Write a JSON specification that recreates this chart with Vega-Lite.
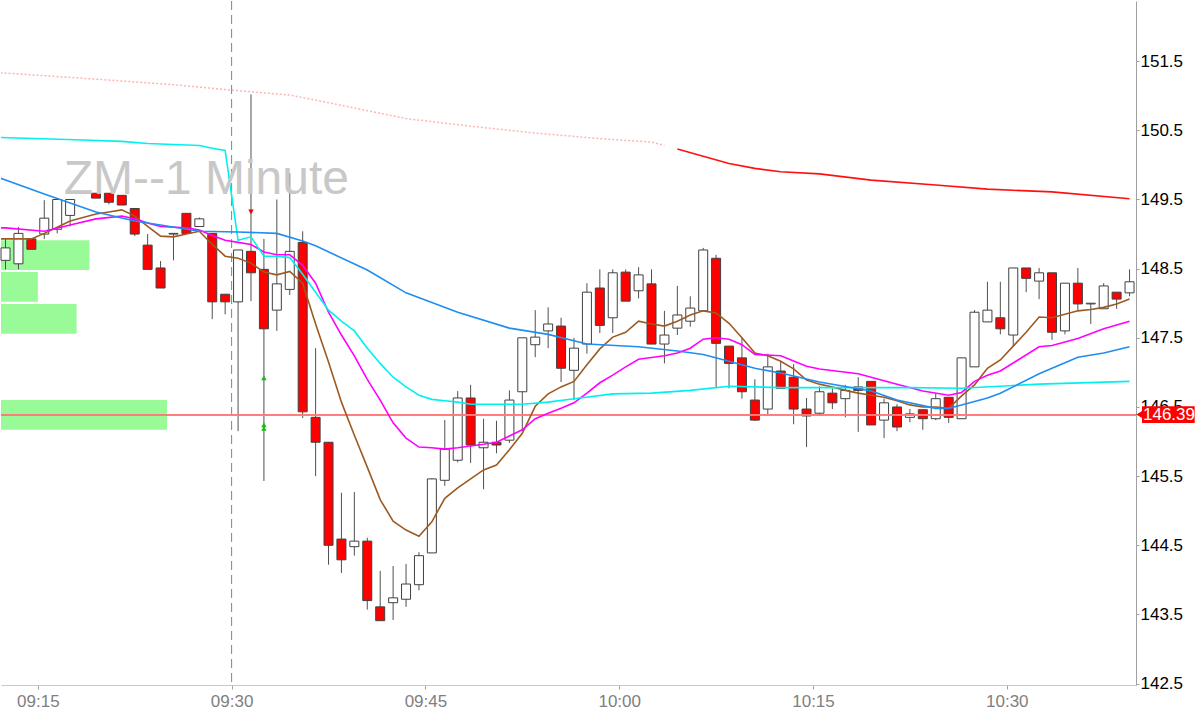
{
  "$schema": "https://vega.github.io/schema/vega-lite/v6.json",
  "width": 1135,
  "height": 684,
  "padding": 0,
  "config": {"view": {"stroke": null}, "font": "Liberation Sans"},
  "datasets": {
    "candles": [
      {"t": "2022-01-03T09:12", "o": 148.62, "h": 148.93, "l": 148.49, "c": 148.80},
      {"t": "2022-01-03T09:13", "o": 148.57, "h": 149.10, "l": 148.49, "c": 149.01},
      {"t": "2022-01-03T09:14", "o": 148.93, "h": 148.93, "l": 148.78, "c": 148.78},
      {"t": "2022-01-03T09:15", "o": 149.00, "h": 149.49, "l": 148.93, "c": 149.23},
      {"t": "2022-01-03T09:16", "o": 149.07, "h": 149.52, "l": 149.01, "c": 149.50},
      {"t": "2022-01-03T09:17", "o": 149.27, "h": 149.50, "l": 149.11, "c": 149.50},
      {"t": "2022-01-03T09:18", "o": 149.61, "h": 149.62, "l": 149.60, "c": 149.61},
      {"t": "2022-01-03T09:19", "o": 149.59, "h": 149.59, "l": 149.52, "c": 149.52},
      {"t": "2022-01-03T09:20", "o": 149.59, "h": 149.59, "l": 149.43, "c": 149.46},
      {"t": "2022-01-03T09:21", "o": 149.56, "h": 149.56, "l": 149.42, "c": 149.42},
      {"t": "2022-01-03T09:22", "o": 149.37, "h": 149.37, "l": 148.97, "c": 149.00},
      {"t": "2022-01-03T09:23", "o": 148.84, "h": 149.00, "l": 148.49, "c": 148.49},
      {"t": "2022-01-03T09:24", "o": 148.51, "h": 148.61, "l": 148.22, "c": 148.22},
      {"t": "2022-01-03T09:25", "o": 149.00, "h": 149.01, "l": 148.62, "c": 149.01},
      {"t": "2022-01-03T09:26", "o": 149.30, "h": 149.30, "l": 149.01, "c": 149.01},
      {"t": "2022-01-03T09:27", "o": 149.11, "h": 149.24, "l": 149.11, "c": 149.22},
      {"t": "2022-01-03T09:28", "o": 149.01, "h": 149.01, "l": 147.77, "c": 148.02},
      {"t": "2022-01-03T09:29", "o": 148.13, "h": 148.13, "l": 147.84, "c": 148.02},
      {"t": "2022-01-03T09:30", "o": 148.02, "h": 148.77, "l": 146.15, "c": 148.77},
      {"t": "2022-01-03T09:31", "o": 148.75, "h": 151.02, "l": 148.03, "c": 148.44},
      {"t": "2022-01-03T09:32", "o": 148.49, "h": 148.93, "l": 145.43, "c": 147.63},
      {"t": "2022-01-03T09:33", "o": 147.90, "h": 149.50, "l": 147.60, "c": 148.28},
      {"t": "2022-01-03T09:34", "o": 148.20, "h": 149.88, "l": 148.12, "c": 148.75},
      {"t": "2022-01-03T09:35", "o": 148.88, "h": 149.04, "l": 146.34, "c": 146.43},
      {"t": "2022-01-03T09:36", "o": 146.35, "h": 147.35, "l": 145.50, "c": 145.99},
      {"t": "2022-01-03T09:37", "o": 145.99, "h": 145.99, "l": 144.22, "c": 144.50},
      {"t": "2022-01-03T09:38", "o": 144.59, "h": 145.26, "l": 144.10, "c": 144.29},
      {"t": "2022-01-03T09:39", "o": 144.48, "h": 145.27, "l": 144.35, "c": 144.56},
      {"t": "2022-01-03T09:40", "o": 144.56, "h": 144.61, "l": 143.57, "c": 143.70},
      {"t": "2022-01-03T09:41", "o": 143.61, "h": 144.13, "l": 143.41, "c": 143.41},
      {"t": "2022-01-03T09:42", "o": 143.67, "h": 144.20, "l": 143.42, "c": 143.74},
      {"t": "2022-01-03T09:43", "o": 143.72, "h": 144.23, "l": 143.61, "c": 143.94},
      {"t": "2022-01-03T09:44", "o": 143.93, "h": 144.40, "l": 143.85, "c": 144.35},
      {"t": "2022-01-03T09:45", "o": 144.39, "h": 145.47, "l": 144.39, "c": 145.46},
      {"t": "2022-01-03T09:46", "o": 145.44, "h": 146.31, "l": 145.36, "c": 145.89},
      {"t": "2022-01-03T09:47", "o": 145.73, "h": 146.73, "l": 145.70, "c": 146.63},
      {"t": "2022-01-03T09:48", "o": 146.63, "h": 146.82, "l": 145.69, "c": 145.95},
      {"t": "2022-01-03T09:49", "o": 145.91, "h": 146.33, "l": 145.31, "c": 145.99},
      {"t": "2022-01-03T09:50", "o": 145.99, "h": 146.30, "l": 145.83, "c": 145.95},
      {"t": "2022-01-03T09:51", "o": 146.02, "h": 146.74, "l": 145.98, "c": 146.60},
      {"t": "2022-01-03T09:52", "o": 146.72, "h": 147.50, "l": 146.15, "c": 147.50},
      {"t": "2022-01-03T09:53", "o": 147.40, "h": 147.90, "l": 147.22, "c": 147.51},
      {"t": "2022-01-03T09:54", "o": 147.60, "h": 147.94, "l": 147.35, "c": 147.70},
      {"t": "2022-01-03T09:55", "o": 147.67, "h": 147.79, "l": 146.86, "c": 147.06},
      {"t": "2022-01-03T09:56", "o": 147.03, "h": 147.50, "l": 146.60, "c": 147.35},
      {"t": "2022-01-03T09:57", "o": 147.41, "h": 148.29, "l": 147.27, "c": 148.16},
      {"t": "2022-01-03T09:58", "o": 148.22, "h": 148.49, "l": 147.57, "c": 147.68},
      {"t": "2022-01-03T09:59", "o": 147.79, "h": 148.49, "l": 147.57, "c": 148.44},
      {"t": "2022-01-03T10:00", "o": 148.45, "h": 148.49, "l": 148.03, "c": 148.03},
      {"t": "2022-01-03T10:01", "o": 148.18, "h": 148.52, "l": 148.07, "c": 148.41},
      {"t": "2022-01-03T10:02", "o": 148.28, "h": 148.49, "l": 147.41, "c": 147.41},
      {"t": "2022-01-03T10:03", "o": 147.41, "h": 147.89, "l": 147.13, "c": 147.54},
      {"t": "2022-01-03T10:04", "o": 147.64, "h": 148.25, "l": 147.54, "c": 147.83},
      {"t": "2022-01-03T10:05", "o": 147.74, "h": 148.10, "l": 147.66, "c": 147.93},
      {"t": "2022-01-03T10:06", "o": 147.89, "h": 148.80, "l": 147.89, "c": 148.77},
      {"t": "2022-01-03T10:07", "o": 148.65, "h": 148.70, "l": 146.77, "c": 147.42},
      {"t": "2022-01-03T10:08", "o": 147.38, "h": 147.38, "l": 146.77, "c": 147.13},
      {"t": "2022-01-03T10:09", "o": 147.21, "h": 147.50, "l": 146.62, "c": 146.72},
      {"t": "2022-01-03T10:10", "o": 146.60, "h": 146.90, "l": 146.30, "c": 146.31},
      {"t": "2022-01-03T10:11", "o": 146.47, "h": 147.27, "l": 146.37, "c": 147.08},
      {"t": "2022-01-03T10:12", "o": 147.02, "h": 147.16, "l": 146.77, "c": 146.77},
      {"t": "2022-01-03T10:13", "o": 146.93, "h": 147.12, "l": 146.25, "c": 146.47},
      {"t": "2022-01-03T10:14", "o": 146.47, "h": 146.63, "l": 145.92, "c": 146.37},
      {"t": "2022-01-03T10:15", "o": 146.41, "h": 146.80, "l": 146.37, "c": 146.72},
      {"t": "2022-01-03T10:16", "o": 146.70, "h": 146.77, "l": 146.47, "c": 146.56},
      {"t": "2022-01-03T10:17", "o": 146.62, "h": 146.82, "l": 146.35, "c": 146.74},
      {"t": "2022-01-03T10:18", "o": 146.79, "h": 146.93, "l": 146.14, "c": 146.74},
      {"t": "2022-01-03T10:19", "o": 146.87, "h": 146.87, "l": 146.24, "c": 146.24},
      {"t": "2022-01-03T10:20", "o": 146.31, "h": 146.62, "l": 146.05, "c": 146.56},
      {"t": "2022-01-03T10:21", "o": 146.50, "h": 146.54, "l": 146.15, "c": 146.21},
      {"t": "2022-01-03T10:22", "o": 146.35, "h": 146.47, "l": 146.28, "c": 146.40},
      {"t": "2022-01-03T10:23", "o": 146.46, "h": 146.46, "l": 146.17, "c": 146.33},
      {"t": "2022-01-03T10:24", "o": 146.33, "h": 146.70, "l": 146.31, "c": 146.62},
      {"t": "2022-01-03T10:25", "o": 146.64, "h": 146.64, "l": 146.27, "c": 146.35},
      {"t": "2022-01-03T10:26", "o": 146.33, "h": 147.21, "l": 146.33, "c": 147.21},
      {"t": "2022-01-03T10:27", "o": 147.08, "h": 147.90, "l": 147.08, "c": 147.87},
      {"t": "2022-01-03T10:28", "o": 147.73, "h": 148.31, "l": 147.73, "c": 147.90},
      {"t": "2022-01-03T10:29", "o": 147.79, "h": 148.31, "l": 147.55, "c": 147.63},
      {"t": "2022-01-03T10:30", "o": 147.54, "h": 148.51, "l": 147.37, "c": 148.51},
      {"t": "2022-01-03T10:31", "o": 148.51, "h": 148.51, "l": 148.16, "c": 148.36},
      {"t": "2022-01-03T10:32", "o": 148.32, "h": 148.51, "l": 148.06, "c": 148.44},
      {"t": "2022-01-03T10:33", "o": 148.44, "h": 148.44, "l": 147.47, "c": 147.58},
      {"t": "2022-01-03T10:34", "o": 147.60, "h": 148.29, "l": 147.55, "c": 148.29},
      {"t": "2022-01-03T10:35", "o": 148.29, "h": 148.51, "l": 147.89, "c": 147.99},
      {"t": "2022-01-03T10:36", "o": 147.99, "h": 148.00, "l": 147.70, "c": 148.00},
      {"t": "2022-01-03T10:37", "o": 147.92, "h": 148.29, "l": 147.92, "c": 148.25},
      {"t": "2022-01-03T10:38", "o": 148.16, "h": 148.16, "l": 147.92, "c": 148.06},
      {"t": "2022-01-03T10:39", "o": 148.15, "h": 148.49, "l": 148.10, "c": 148.31}
    ],
    "ma": [
      {"s": "fast", "t": "2022-01-03T09:11", "v": 148.93},
      {"s": "fast", "t": "2022-01-03T09:14", "v": 148.93},
      {"s": "fast", "t": "2022-01-03T09:15", "v": 149.01},
      {"s": "fast", "t": "2022-01-03T09:16", "v": 149.10},
      {"s": "fast", "t": "2022-01-03T09:17", "v": 149.19},
      {"s": "fast", "t": "2022-01-03T09:19", "v": 149.29},
      {"s": "fast", "t": "2022-01-03T09:20", "v": 149.32},
      {"s": "fast", "t": "2022-01-03T09:21", "v": 149.35},
      {"s": "fast", "t": "2022-01-03T09:22", "v": 149.26},
      {"s": "fast", "t": "2022-01-03T09:23", "v": 149.11},
      {"s": "fast", "t": "2022-01-03T09:24", "v": 148.97},
      {"s": "fast", "t": "2022-01-03T09:25", "v": 148.96},
      {"s": "fast", "t": "2022-01-03T09:26", "v": 149.00},
      {"s": "fast", "t": "2022-01-03T09:27", "v": 149.04},
      {"s": "fast", "t": "2022-01-03T09:28", "v": 148.85},
      {"s": "fast", "t": "2022-01-03T09:29", "v": 148.68},
      {"s": "fast", "t": "2022-01-03T09:30", "v": 148.65},
      {"s": "fast", "t": "2022-01-03T09:31", "v": 148.58},
      {"s": "fast", "t": "2022-01-03T09:32", "v": 148.45},
      {"s": "fast", "t": "2022-01-03T09:33", "v": 148.41},
      {"s": "fast", "t": "2022-01-03T09:34", "v": 148.46},
      {"s": "fast", "t": "2022-01-03T09:35", "v": 148.29},
      {"s": "fast", "t": "2022-01-03T09:36", "v": 147.70},
      {"s": "fast", "t": "2022-01-03T09:37", "v": 147.15},
      {"s": "fast", "t": "2022-01-03T09:38", "v": 146.57},
      {"s": "fast", "t": "2022-01-03T09:39", "v": 146.09},
      {"s": "fast", "t": "2022-01-03T09:40", "v": 145.63},
      {"s": "fast", "t": "2022-01-03T09:41", "v": 145.16},
      {"s": "fast", "t": "2022-01-03T09:42", "v": 144.85},
      {"s": "fast", "t": "2022-01-03T09:43", "v": 144.72},
      {"s": "fast", "t": "2022-01-03T09:44", "v": 144.63},
      {"s": "fast", "t": "2022-01-03T09:45", "v": 144.84},
      {"s": "fast", "t": "2022-01-03T09:46", "v": 145.18},
      {"s": "fast", "t": "2022-01-03T09:47", "v": 145.33},
      {"s": "fast", "t": "2022-01-03T09:48", "v": 145.46},
      {"s": "fast", "t": "2022-01-03T09:49", "v": 145.59},
      {"s": "fast", "t": "2022-01-03T09:50", "v": 145.66},
      {"s": "fast", "t": "2022-01-03T09:51", "v": 145.88},
      {"s": "fast", "t": "2022-01-03T09:52", "v": 146.12},
      {"s": "fast", "t": "2022-01-03T09:53", "v": 146.51},
      {"s": "fast", "t": "2022-01-03T09:54", "v": 146.69},
      {"s": "fast", "t": "2022-01-03T09:55", "v": 146.79},
      {"s": "fast", "t": "2022-01-03T09:56", "v": 146.87},
      {"s": "fast", "t": "2022-01-03T09:57", "v": 147.11},
      {"s": "fast", "t": "2022-01-03T09:58", "v": 147.34},
      {"s": "fast", "t": "2022-01-03T09:59", "v": 147.51},
      {"s": "fast", "t": "2022-01-03T10:00", "v": 147.58},
      {"s": "fast", "t": "2022-01-03T10:01", "v": 147.74},
      {"s": "fast", "t": "2022-01-03T10:02", "v": 147.70},
      {"s": "fast", "t": "2022-01-03T10:03", "v": 147.67},
      {"s": "fast", "t": "2022-01-03T10:04", "v": 147.74},
      {"s": "fast", "t": "2022-01-03T10:05", "v": 147.83},
      {"s": "fast", "t": "2022-01-03T10:06", "v": 147.89},
      {"s": "fast", "t": "2022-01-03T10:07", "v": 147.86},
      {"s": "fast", "t": "2022-01-03T10:08", "v": 147.71},
      {"s": "fast", "t": "2022-01-03T10:09", "v": 147.50},
      {"s": "fast", "t": "2022-01-03T10:10", "v": 147.28},
      {"s": "fast", "t": "2022-01-03T10:11", "v": 147.24},
      {"s": "fast", "t": "2022-01-03T10:12", "v": 147.16},
      {"s": "fast", "t": "2022-01-03T10:13", "v": 147.05},
      {"s": "fast", "t": "2022-01-03T10:14", "v": 146.89},
      {"s": "fast", "t": "2022-01-03T10:15", "v": 146.83},
      {"s": "fast", "t": "2022-01-03T10:16", "v": 146.79},
      {"s": "fast", "t": "2022-01-03T10:17", "v": 146.74},
      {"s": "fast", "t": "2022-01-03T10:18", "v": 146.70},
      {"s": "fast", "t": "2022-01-03T10:19", "v": 146.67},
      {"s": "fast", "t": "2022-01-03T10:20", "v": 146.64},
      {"s": "fast", "t": "2022-01-03T10:21", "v": 146.59},
      {"s": "fast", "t": "2022-01-03T10:22", "v": 146.53},
      {"s": "fast", "t": "2022-01-03T10:23", "v": 146.50},
      {"s": "fast", "t": "2022-01-03T10:24", "v": 146.50},
      {"s": "fast", "t": "2022-01-03T10:25", "v": 146.48},
      {"s": "fast", "t": "2022-01-03T10:26", "v": 146.66},
      {"s": "fast", "t": "2022-01-03T10:27", "v": 146.82},
      {"s": "fast", "t": "2022-01-03T10:28", "v": 147.06},
      {"s": "fast", "t": "2022-01-03T10:29", "v": 147.18},
      {"s": "fast", "t": "2022-01-03T10:30", "v": 147.38},
      {"s": "fast", "t": "2022-01-03T10:31", "v": 147.58},
      {"s": "fast", "t": "2022-01-03T10:32", "v": 147.80},
      {"s": "fast", "t": "2022-01-03T10:33", "v": 147.79},
      {"s": "fast", "t": "2022-01-03T10:34", "v": 147.84},
      {"s": "fast", "t": "2022-01-03T10:35", "v": 147.89},
      {"s": "fast", "t": "2022-01-03T10:36", "v": 147.91},
      {"s": "fast", "t": "2022-01-03T10:37", "v": 147.94},
      {"s": "fast", "t": "2022-01-03T10:38", "v": 147.99},
      {"s": "fast", "t": "2022-01-03T10:39", "v": 148.06},
      {"s": "mid", "t": "2022-01-03T09:11", "v": 149.09},
      {"s": "mid", "t": "2022-01-03T09:12", "v": 149.09},
      {"s": "mid", "t": "2022-01-03T09:15", "v": 149.04},
      {"s": "mid", "t": "2022-01-03T09:17", "v": 149.13},
      {"s": "mid", "t": "2022-01-03T09:19", "v": 149.22},
      {"s": "mid", "t": "2022-01-03T09:21", "v": 149.26},
      {"s": "mid", "t": "2022-01-03T09:22", "v": 149.22},
      {"s": "mid", "t": "2022-01-03T09:23", "v": 149.16},
      {"s": "mid", "t": "2022-01-03T09:24", "v": 149.11},
      {"s": "mid", "t": "2022-01-03T09:26", "v": 149.09},
      {"s": "mid", "t": "2022-01-03T09:27", "v": 149.06},
      {"s": "mid", "t": "2022-01-03T09:28", "v": 148.98},
      {"s": "mid", "t": "2022-01-03T09:29", "v": 148.91},
      {"s": "mid", "t": "2022-01-03T09:30", "v": 148.88},
      {"s": "mid", "t": "2022-01-03T09:31", "v": 148.85},
      {"s": "mid", "t": "2022-01-03T09:32", "v": 148.74},
      {"s": "mid", "t": "2022-01-03T09:33", "v": 148.70},
      {"s": "mid", "t": "2022-01-03T09:34", "v": 148.70},
      {"s": "mid", "t": "2022-01-03T09:35", "v": 148.55},
      {"s": "mid", "t": "2022-01-03T09:36", "v": 148.29},
      {"s": "mid", "t": "2022-01-03T09:37", "v": 147.87},
      {"s": "mid", "t": "2022-01-03T09:38", "v": 147.54},
      {"s": "mid", "t": "2022-01-03T09:39", "v": 147.24},
      {"s": "mid", "t": "2022-01-03T09:40", "v": 146.90},
      {"s": "mid", "t": "2022-01-03T09:41", "v": 146.60},
      {"s": "mid", "t": "2022-01-03T09:42", "v": 146.27},
      {"s": "mid", "t": "2022-01-03T09:43", "v": 146.05},
      {"s": "mid", "t": "2022-01-03T09:44", "v": 145.92},
      {"s": "mid", "t": "2022-01-03T09:45", "v": 145.91},
      {"s": "mid", "t": "2022-01-03T09:46", "v": 145.89},
      {"s": "mid", "t": "2022-01-03T09:47", "v": 145.91},
      {"s": "mid", "t": "2022-01-03T09:49", "v": 145.96},
      {"s": "mid", "t": "2022-01-03T09:50", "v": 145.99},
      {"s": "mid", "t": "2022-01-03T09:51", "v": 146.08},
      {"s": "mid", "t": "2022-01-03T09:52", "v": 146.17},
      {"s": "mid", "t": "2022-01-03T09:53", "v": 146.33},
      {"s": "mid", "t": "2022-01-03T09:54", "v": 146.41},
      {"s": "mid", "t": "2022-01-03T09:55", "v": 146.48},
      {"s": "mid", "t": "2022-01-03T09:56", "v": 146.56},
      {"s": "mid", "t": "2022-01-03T09:57", "v": 146.70},
      {"s": "mid", "t": "2022-01-03T09:58", "v": 146.85},
      {"s": "mid", "t": "2022-01-03T09:59", "v": 146.96},
      {"s": "mid", "t": "2022-01-03T10:00", "v": 147.08},
      {"s": "mid", "t": "2022-01-03T10:01", "v": 147.19},
      {"s": "mid", "t": "2022-01-03T10:03", "v": 147.24},
      {"s": "mid", "t": "2022-01-03T10:04", "v": 147.28},
      {"s": "mid", "t": "2022-01-03T10:05", "v": 147.35},
      {"s": "mid", "t": "2022-01-03T10:06", "v": 147.48},
      {"s": "mid", "t": "2022-01-03T10:07", "v": 147.50},
      {"s": "mid", "t": "2022-01-03T10:08", "v": 147.48},
      {"s": "mid", "t": "2022-01-03T10:09", "v": 147.40},
      {"s": "mid", "t": "2022-01-03T10:10", "v": 147.26},
      {"s": "mid", "t": "2022-01-03T10:12", "v": 147.24},
      {"s": "mid", "t": "2022-01-03T10:14", "v": 147.09},
      {"s": "mid", "t": "2022-01-03T10:15", "v": 147.05},
      {"s": "mid", "t": "2022-01-03T10:18", "v": 146.98},
      {"s": "mid", "t": "2022-01-03T10:21", "v": 146.83},
      {"s": "mid", "t": "2022-01-03T10:23", "v": 146.73},
      {"s": "mid", "t": "2022-01-03T10:25", "v": 146.67},
      {"s": "mid", "t": "2022-01-03T10:26", "v": 146.71},
      {"s": "mid", "t": "2022-01-03T10:27", "v": 146.87},
      {"s": "mid", "t": "2022-01-03T10:28", "v": 146.96},
      {"s": "mid", "t": "2022-01-03T10:29", "v": 147.02},
      {"s": "mid", "t": "2022-01-03T10:32", "v": 147.37},
      {"s": "mid", "t": "2022-01-03T10:33", "v": 147.39},
      {"s": "mid", "t": "2022-01-03T10:35", "v": 147.49},
      {"s": "mid", "t": "2022-01-03T10:37", "v": 147.63},
      {"s": "mid", "t": "2022-01-03T10:39", "v": 147.74},
      {"s": "vwap", "t": "2022-01-03T09:11", "v": 150.40},
      {"s": "vwap", "t": "2022-01-03T09:18", "v": 150.36},
      {"s": "vwap", "t": "2022-01-03T09:21", "v": 150.34},
      {"s": "vwap", "t": "2022-01-03T09:23", "v": 150.31},
      {"s": "vwap", "t": "2022-01-03T09:27", "v": 150.28},
      {"s": "vwap", "t": "2022-01-03T09:28", "v": 150.24},
      {"s": "vwap", "t": "2022-01-03T09:29", "v": 150.21},
      {"s": "vwap", "t": "2022-01-03T09:30", "v": 148.91},
      {"s": "vwap", "t": "2022-01-03T09:31", "v": 148.96},
      {"s": "vwap", "t": "2022-01-03T09:32", "v": 148.68},
      {"s": "vwap", "t": "2022-01-03T09:33", "v": 148.68},
      {"s": "vwap", "t": "2022-01-03T09:34", "v": 148.66},
      {"s": "vwap", "t": "2022-01-03T09:35", "v": 148.42},
      {"s": "vwap", "t": "2022-01-03T09:36", "v": 148.16},
      {"s": "vwap", "t": "2022-01-03T09:37", "v": 147.90},
      {"s": "vwap", "t": "2022-01-03T09:38", "v": 147.74},
      {"s": "vwap", "t": "2022-01-03T09:39", "v": 147.60},
      {"s": "vwap", "t": "2022-01-03T09:40", "v": 147.35},
      {"s": "vwap", "t": "2022-01-03T09:41", "v": 147.13},
      {"s": "vwap", "t": "2022-01-03T09:42", "v": 146.93},
      {"s": "vwap", "t": "2022-01-03T09:43", "v": 146.79},
      {"s": "vwap", "t": "2022-01-03T09:44", "v": 146.67},
      {"s": "vwap", "t": "2022-01-03T09:45", "v": 146.61},
      {"s": "vwap", "t": "2022-01-03T09:46", "v": 146.59},
      {"s": "vwap", "t": "2022-01-03T09:47", "v": 146.57},
      {"s": "vwap", "t": "2022-01-03T09:48", "v": 146.54},
      {"s": "vwap", "t": "2022-01-03T09:52", "v": 146.54},
      {"s": "vwap", "t": "2022-01-03T09:54", "v": 146.57},
      {"s": "vwap", "t": "2022-01-03T09:56", "v": 146.62},
      {"s": "vwap", "t": "2022-01-03T09:59", "v": 146.69},
      {"s": "vwap", "t": "2022-01-03T10:02", "v": 146.70},
      {"s": "vwap", "t": "2022-01-03T10:05", "v": 146.74},
      {"s": "vwap", "t": "2022-01-03T10:08", "v": 146.80},
      {"s": "vwap", "t": "2022-01-03T10:12", "v": 146.78},
      {"s": "vwap", "t": "2022-01-03T10:22", "v": 146.78},
      {"s": "vwap", "t": "2022-01-03T10:26", "v": 146.77},
      {"s": "vwap", "t": "2022-01-03T10:32", "v": 146.83},
      {"s": "vwap", "t": "2022-01-03T10:39", "v": 146.87},
      {"s": "slow", "t": "2022-01-03T09:11", "v": 149.85},
      {"s": "slow", "t": "2022-01-03T09:15", "v": 149.58},
      {"s": "slow", "t": "2022-01-03T09:19", "v": 149.32},
      {"s": "slow", "t": "2022-01-03T09:22", "v": 149.19},
      {"s": "slow", "t": "2022-01-03T09:24", "v": 149.13},
      {"s": "slow", "t": "2022-01-03T09:27", "v": 149.04},
      {"s": "slow", "t": "2022-01-03T09:30", "v": 149.03},
      {"s": "slow", "t": "2022-01-03T09:33", "v": 149.01},
      {"s": "slow", "t": "2022-01-03T09:35", "v": 148.90},
      {"s": "slow", "t": "2022-01-03T09:36", "v": 148.83},
      {"s": "slow", "t": "2022-01-03T09:40", "v": 148.48},
      {"s": "slow", "t": "2022-01-03T09:43", "v": 148.15},
      {"s": "slow", "t": "2022-01-03T09:47", "v": 147.87},
      {"s": "slow", "t": "2022-01-03T09:51", "v": 147.64},
      {"s": "slow", "t": "2022-01-03T09:54", "v": 147.55},
      {"s": "slow", "t": "2022-01-03T09:57", "v": 147.41},
      {"s": "slow", "t": "2022-01-03T10:01", "v": 147.37},
      {"s": "slow", "t": "2022-01-03T10:04", "v": 147.31},
      {"s": "slow", "t": "2022-01-03T10:06", "v": 147.26},
      {"s": "slow", "t": "2022-01-03T10:08", "v": 147.16},
      {"s": "slow", "t": "2022-01-03T10:10", "v": 147.06},
      {"s": "slow", "t": "2022-01-03T10:12", "v": 146.99},
      {"s": "slow", "t": "2022-01-03T10:15", "v": 146.86},
      {"s": "slow", "t": "2022-01-03T10:19", "v": 146.73},
      {"s": "slow", "t": "2022-01-03T10:21", "v": 146.60},
      {"s": "slow", "t": "2022-01-03T10:24", "v": 146.48},
      {"s": "slow", "t": "2022-01-03T10:25", "v": 146.48},
      {"s": "slow", "t": "2022-01-03T10:26", "v": 146.53},
      {"s": "slow", "t": "2022-01-03T10:28", "v": 146.63},
      {"s": "slow", "t": "2022-01-03T10:29", "v": 146.70},
      {"s": "slow", "t": "2022-01-03T10:32", "v": 146.98},
      {"s": "slow", "t": "2022-01-03T10:35", "v": 147.22},
      {"s": "slow", "t": "2022-01-03T10:37", "v": 147.28},
      {"s": "slow", "t": "2022-01-03T10:39", "v": 147.37},
      {"s": "long_pre", "t": "2022-01-03T09:11", "v": 151.34},
      {"s": "long_pre", "t": "2022-01-03T09:19", "v": 151.24},
      {"s": "long_pre", "t": "2022-01-03T09:25", "v": 151.16},
      {"s": "long_pre", "t": "2022-01-03T09:29", "v": 151.09},
      {"s": "long_pre", "t": "2022-01-03T09:34", "v": 151.01},
      {"s": "long_pre", "t": "2022-01-03T09:37", "v": 150.90},
      {"s": "long_pre", "t": "2022-01-03T09:43", "v": 150.67},
      {"s": "long_pre", "t": "2022-01-03T09:48", "v": 150.56},
      {"s": "long_pre", "t": "2022-01-03T09:53", "v": 150.46},
      {"s": "long_pre", "t": "2022-01-03T09:58", "v": 150.38},
      {"s": "long_pre", "t": "2022-01-03T10:02", "v": 150.33},
      {"s": "long_pre", "t": "2022-01-03T10:03", "v": 150.28},
      {"s": "long", "t": "2022-01-03T10:04", "v": 150.23},
      {"s": "long", "t": "2022-01-03T10:08", "v": 150.02},
      {"s": "long", "t": "2022-01-03T10:10", "v": 149.95},
      {"s": "long", "t": "2022-01-03T10:12", "v": 149.90},
      {"s": "long", "t": "2022-01-03T10:15", "v": 149.87},
      {"s": "long", "t": "2022-01-03T10:19", "v": 149.78},
      {"s": "long", "t": "2022-01-03T10:24", "v": 149.71},
      {"s": "long", "t": "2022-01-03T10:28", "v": 149.65},
      {"s": "long", "t": "2022-01-03T10:33", "v": 149.61},
      {"s": "long", "t": "2022-01-03T10:39", "v": 149.51}
    ],
    "zones": [
      {"lo": 148.48, "hi": 148.91, "start": "2022-01-03T09:12", "end": "2022-01-03T09:19"},
      {"lo": 148.02, "hi": 148.45, "start": "2022-01-03T09:12", "end": "2022-01-03T09:15"},
      {"lo": 147.56, "hi": 147.99, "start": "2022-01-03T09:12", "end": "2022-01-03T09:18"},
      {"lo": 146.17, "hi": 146.60, "start": "2022-01-03T09:12", "end": "2022-01-03T09:25"}
    ],
    "signals": [
      {"t": "2022-01-03T09:31", "kind": "sell", "v": 149.32},
      {"t": "2022-01-03T09:32", "kind": "buy", "v": 146.92},
      {"t": "2022-01-03T09:32", "kind": "buy", "v": 146.24},
      {"t": "2022-01-03T09:32", "kind": "buy", "v": 146.19}
    ],
    "notes": [
      {"what": "session", "t": "2022-01-03T09:30"},
      {"what": "title", "t": "2022-01-03T09:17", "v": 149.58, "label": "ZM--1 Minute"},
      {"what": "last", "t": "2022-01-03T10:40", "t2": "2022-01-03T10:44", "v": 146.39, "lo": 146.27, "hi": 146.51, "label": "146.39"}
    ]
  },
  "data": {"name": "candles"},
  "layer": [
    {
      "data": {"name": "zones"},
      "mark": {"type": "rect", "color": "#98fb98", "clip": true},
      "encoding": {
        "x": {"field": "start", "type": "temporal", "timeUnit": "yearmonthdatehoursminutes"},
        "x2": {"field": "end", "timeUnit": "yearmonthdatehoursminutes"},
        "y": {"field": "lo", "type": "quantitative"},
        "y2": {"field": "hi"}
      }
    },
    {
      "mark": {"type": "rule", "color": "#505050"},
      "encoding": {
        "x": {
          "field": "t", "type": "temporal", "timeUnit": "yearmonthdatehoursminutes", "bandPosition": 0.5,
          "scale": {"domain": [
            {"year": 2022, "month": 1, "date": 3, "hours": 9, "minutes": 12, "seconds": 9},
            {"year": 2022, "month": 1, "date": 3, "hours": 10, "minutes": 40}
          ]},
          "axis": {
            "title": null,
            "format": "%H:%M",
            "grid": false,
            "tickCount": 6,
            "labelFontSize": 17,
            "labelColor": "#808080",
            "labelPadding": 4,
            "tickSize": 4,
            "tickColor": "#a0a0a0",
            "domainColor": "#c8c8c8"
          }
        },
        "y": {
          "field": "l", "type": "quantitative",
          "scale": {"domain": [142.48, 152.37], "nice": false, "zero": false},
          "axis": {
            "orient": "right",
            "title": null,
            "grid": false,
            "values": [142.5, 143, 143.5, 144, 144.5, 145, 145.5, 146, 146.5, 147, 147.5, 148, 148.5, 149, 149.5, 150, 150.5, 151, 151.5, 152],
            "format": ".1~f",
            "labelOverlap": false,
            "labelFontSize": 17,
            "labelColor": "#000000",
            "labelPadding": 1,
            "tickSize": 3,
            "tickColor": "#a0a0a0",
            "domainColor": "#a0a0a0"
          }
        },
        "y2": {"field": "h"}
      }
    },
    {
      "mark": {"type": "bar", "width": 9, "stroke": "#404040", "strokeWidth": 1},
      "encoding": {
        "x": {"field": "t", "type": "temporal", "timeUnit": "yearmonthdatehoursminutes", "bandPosition": 0.5},
        "y": {"field": "o", "type": "quantitative"},
        "y2": {"field": "c"},
        "fill": {"condition": {"test": "datum.c >= datum.o", "value": "#ffffff"}, "value": "#ff0000"}
      }
    },
    {
      "data": {"name": "notes"},
      "transform": [{"filter": "datum.what == 'session'"}],
      "mark": {"type": "rule", "stroke": "#2fa8a0", "strokeWidth": 1, "strokeDash": [9, 5]},
      "encoding": {"x": {"field": "t", "type": "temporal", "timeUnit": "yearmonthdatehoursminutes"}}
    },
    {
      "mark": {"type": "rule", "color": "#ff7b7b", "strokeWidth": 1},
      "encoding": {"y": {"datum": 146.39, "type": "quantitative"}}
    },
    {
      "data": {"name": "ma"},
      "transform": [{"filter": "datum.s != 'long_pre'"}],
      "mark": {"type": "line", "strokeWidth": 1.6, "clip": true},
      "encoding": {
        "x": {"field": "t", "type": "temporal", "timeUnit": "yearmonthdatehoursminutes", "bandPosition": 0.5},
        "y": {"field": "v", "type": "quantitative"},
        "color": {
          "field": "s", "type": "nominal", "legend": null,
          "scale": {"domain": ["fast", "mid", "vwap", "slow", "long"], "range": ["#9c5a22", "#ff00ff", "#00f0f0", "#1e8ef0", "#ff1010"]}
        }
      }
    },
    {
      "data": {"name": "ma"},
      "transform": [{"filter": "datum.s == 'long_pre'"}],
      "mark": {"type": "line", "strokeWidth": 1.5, "clip": true, "color": "#ffb3b3", "strokeDash": [2, 2]},
      "encoding": {
        "x": {"field": "t", "type": "temporal", "timeUnit": "yearmonthdatehoursminutes", "bandPosition": 0.5},
        "y": {"field": "v", "type": "quantitative"}
      }
    },
    {
      "data": {"name": "signals"},
      "mark": {"type": "point", "filled": true, "size": 30, "opacity": 1},
      "encoding": {
        "x": {"field": "t", "type": "temporal", "timeUnit": "yearmonthdatehoursminutes", "bandPosition": 0.5},
        "y": {"field": "v", "type": "quantitative"},
        "shape": {"condition": {"test": "datum.kind == 'sell'", "value": "triangle-down"}, "value": "triangle-up"},
        "color": {"condition": {"test": "datum.kind == 'sell'", "value": "#ee0000"}, "value": "#1fb81f"}
      }
    },
    {
      "data": {"name": "notes"},
      "transform": [{"filter": "datum.what == 'title'"}],
      "mark": {"type": "text", "align": "left", "baseline": "alphabetic", "fontSize": 48, "color": "#c8c8c8"},
      "encoding": {
        "x": {"field": "t", "type": "temporal", "timeUnit": "yearmonthdatehoursminutes"},
        "y": {"field": "v", "type": "quantitative"},
        "text": {"field": "label"}
      }
    },
    {
      "data": {"name": "notes"},
      "transform": [{"filter": "datum.what == 'last'"}],
      "mark": {"type": "rect", "color": "#ff0000", "xOffset": 6, "x2Offset": 7},
      "encoding": {
        "x": {"field": "t", "type": "temporal", "timeUnit": "yearmonthdatehoursminutes"},
        "x2": {"field": "t2", "timeUnit": "yearmonthdatehoursminutes"},
        "y": {"field": "lo", "type": "quantitative"},
        "y2": {"field": "hi"}
      }
    },
    {
      "data": {"name": "notes"},
      "transform": [{"filter": "datum.what == 'last'"}],
      "mark": {"type": "point", "shape": "triangle-left", "filled": true, "color": "#ff0000", "opacity": 1, "size": 180, "xOffset": 6},
      "encoding": {
        "x": {"field": "t", "type": "temporal", "timeUnit": "yearmonthdatehoursminutes"},
        "y": {"field": "v", "type": "quantitative"}
      }
    },
    {
      "data": {"name": "notes"},
      "transform": [{"filter": "datum.what == 'last'"}],
      "mark": {"type": "text", "align": "left", "baseline": "middle", "dx": 7, "fontSize": 17, "color": "#ffffff"},
      "encoding": {
        "x": {"field": "t", "type": "temporal", "timeUnit": "yearmonthdatehoursminutes"},
        "y": {"field": "v", "type": "quantitative"},
        "text": {"field": "label"}
      }
    }
  ]
}
